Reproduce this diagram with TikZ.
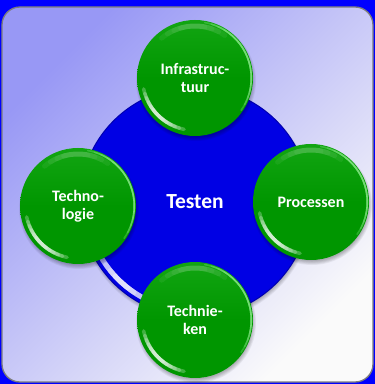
\documentclass[tikz,border=0pt]{standalone}
\usepackage{fontspec}
\setmainfont{Carlito}
\definecolor{bgblue}{RGB}{0,0,255}
\definecolor{ballgreen}{RGB}{0,150,0}
\definecolor{balltop}{RGB}{18,165,18}
\definecolor{ballrim}{RGB}{140,235,140}
\definecolor{discblue}{RGB}{0,0,228}
\definecolor{discrim}{RGB}{0,0,175}
\definecolor{lav}{RGB}{152,152,245}
\definecolor{pale}{RGB}{250,250,250}
\definecolor{panelrim}{RGB}{125,125,125}
\tikzset{
  ball/.style={circle, minimum size=116pt, inner sep=0pt, text=white,
    top color=balltop, bottom color=ballgreen, middle color=ballgreen,
    font=\bfseries\fontsize{16}{17.5}\selectfont, align=center},
  disc/.style={circle, minimum size=230pt, inner sep=0pt, fill=discblue,
    draw=discrim, line width=1pt, text=white,
    font=\bfseries\fontsize{21.5}{24}\selectfont},
  panel/.style={rounded corners=18pt, top color=lav, bottom color=pale, shading angle=45},
}
\newcommand\softshadow[2]{%
  \foreach \k in {0,...,5}{\fill[black,opacity=0.05] ([shift={(1,-3)}]#1) circle ({#2-2+\k*0.8});}}
\newcommand\ballgloss[1]{%
  \foreach \k in {0,...,5}{%
    \draw[white, opacity=0.25, line width=3.5pt, line cap=round]
      ([shift={(192+\k*5:52.5)}]#1) arc[start angle=192+\k*5, end angle=258-\k*5, radius=52.5];}
  \foreach \k in {0,...,4}{%
    \draw[ballrim, opacity=0.3, line width=1.6pt, line cap=round]
      ([shift={(-35+\k*7:56.3)}]#1) arc[start angle=-35+\k*7, end angle=80-\k*7, radius=56.3];}
  \foreach \k in {0,...,3}{%
    \draw[white, opacity=0.06, line width=5pt, line cap=round]
      ([shift={(55+\k*8:52)}]#1) arc[start angle=55+\k*8, end angle=130-\k*8, radius=52];}}
\begin{document}
\begin{tikzpicture}[x=1pt,y=1pt]
\useasboundingbox (0,0) rectangle (375,384);
\fill[bgblue] (0,0) rectangle (375,384);
\shade[panel] (2,2) rectangle (373,377);
\draw[panelrim, line width=1.3pt, rounded corners=18pt] (2,2) rectangle (373,377);

% central disc
\coordinate (dc) at (195,182);
\softshadow{dc}{115}
\node[disc] (disc) at (dc) {Testen};
\foreach \k in {0,...,5}{%
  \draw[white, opacity=0.3, line width=5pt, line cap=round]
    ([shift={(203+\k*4:109)}]dc) arc[start angle=203+\k*4, end angle=252-\k*4, radius=109];}

% balls
\coordinate (ct) at (195,306);
\coordinate (cl) at (78,178);
\coordinate (cr) at (311,182);
\coordinate (cb) at (195,64);

\softshadow{ct}{58}
\node[ball] (infra) at (ct) {Infrastruc-\\tuur};
\ballgloss{ct}

\softshadow{cl}{58}
\node[ball] (techno) at (cl) {Techno-\\logie};
\ballgloss{cl}

\softshadow{cr}{58}
\node[ball] (proc) at (cr) {Processen};
\ballgloss{cr}

\softshadow{cb}{58}
\node[ball] (techniek) at (cb) {Technie-\\ken};
\ballgloss{cb}
\end{tikzpicture}
\end{document}
